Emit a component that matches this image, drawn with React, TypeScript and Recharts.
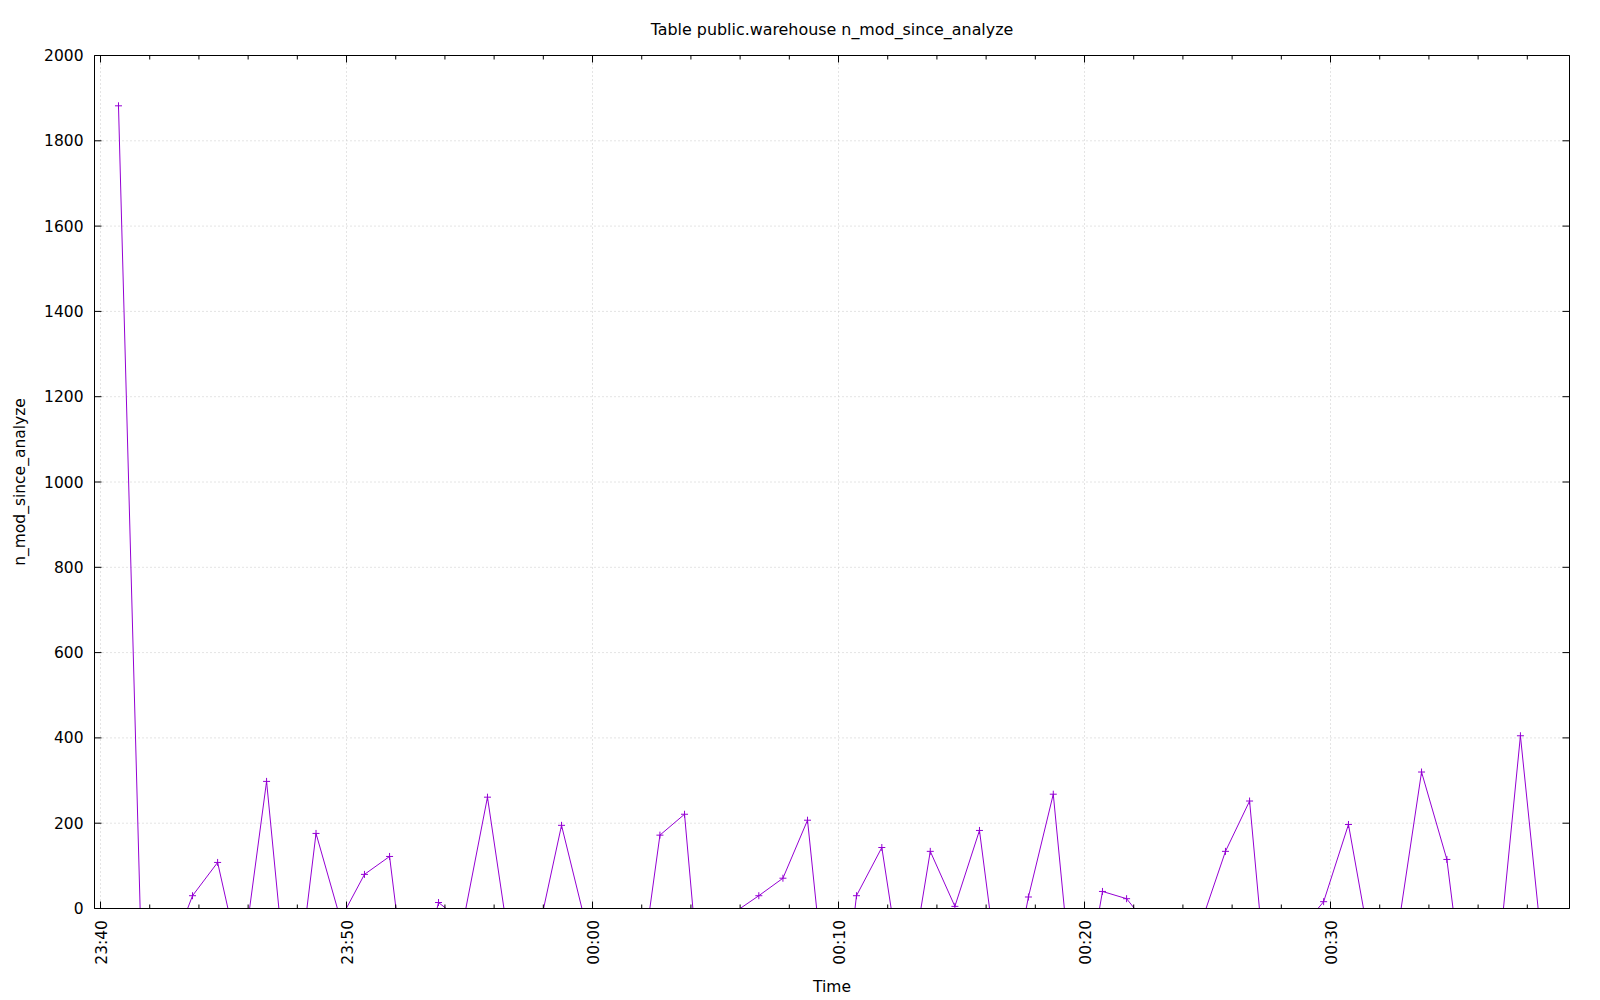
import React from 'react';
import { LineChart, Line, XAxis, YAxis, CartesianGrid, ReferenceLine } from 'recharts';

// time axis = minutes after 23:40; values of 0 are where the trace hits the floor of the plot
const times = [
  0.73, 1.61, 3.54, 3.74, 4.76, 5.18, 6.06, 6.75, 7.25, 8.39, 8.76, 9.63, 9.99, 10.73, 11.75, 12.01,
  13.68, 13.74, 14.05, 14.85, 15.73, 16.4, 18.01, 18.74, 19.57, 22.33, 22.74, 23.74, 24.08, 26.0, 26.76,
  27.74, 28.74, 29.11, 30.67, 30.73, 31.76, 32.14, 33.35, 33.73, 34.73, 35.73, 36.14, 37.63, 37.72,
  38.73, 39.18, 40.61, 40.73, 41.71, 42.03, 44.94, 45.73, 46.71, 47.11, 49.49, 49.72, 50.73, 51.34,
  52.87, 53.7, 54.73, 54.98, 57.03, 57.72, 58.44,
];
const values = [
  1882, 0, 0, 30, 108, 0, 0, 298, 0, 0, 176, 0, 0, 80, 122, 0,
  0, 14, 0, 0, 261, 0, 0, 195, 0, 0, 172, 221, 0, 0, 30,
  71, 207, 0, 0, 30, 143, 0, 0, 134, 5, 183, 0, 0, 27,
  268, 0, 0, 40, 23, 0, 0, 134, 252, 0, 0, 16, 197, 0,
  0, 320, 115, 0, 0, 405, 0,
];

const xTicks = [0, 2, 4, 6, 8, 10, 12, 14, 16, 18, 20, 22, 24, 26, 28, 30, 32, 34, 36, 38, 40, 42, 44, 46, 48, 50, 52, 54, 56, 58];
const xMajor = [0, 10, 20, 30, 40, 50];
const yTicks = [0, 200, 400, 600, 800, 1000, 1200, 1400, 1600, 1800, 2000];
const startMinute = 23 * 60 + 40;

const title = 'Table public.warehouse n_mod_since_analyze';
const xTitle = 'Time';
const yTitle = 'n_mod_since_analyze';

const PURPLE = '#9400d3';
const FONT = '"DejaVu Sans", sans-serif';
const FS = 15.5;

const fmtTime = (m: number) => {
  const total = (startMinute + Math.round(m)) % 1440;
  const h = Math.floor(total / 60);
  const mm = total % 60;
  return `${String(h).padStart(2, '0')}:${String(mm).padStart(2, '0')}`;
};

// split wherever two floor points follow each other, so nothing runs along the bottom border
type Pt = { t: number; v: number };
const segments: Pt[][] = [];
let cur: Pt[] = [];
times.forEach((t, i) => {
  const p = { t, v: values[i] };
  if (p.v === 0 && cur.length && cur[cur.length - 1].v === 0) {
    segments.push(cur);
    cur = [p];
  } else {
    cur.push(p);
  }
});
if (cur.length) segments.push(cur);

const PlusDot = (props: any) => {
  const { cx, cy, value, index } = props;
  if (!value || cx == null || cy == null) return <g key={index} />;
  return (
    <path
      key={index}
      d={`M${cx - 3.5},${cy}h7M${cx},${cy - 3.5}v7`}
      stroke={PURPLE}
      strokeWidth={1}
      fill="none"
    />
  );
};

const BottomTick = ({ x, y, payload }: any) => {
  const major = payload.value % 10 === 0;
  const ty = y + 11.5;
  return (
    <g>
      <line x1={x} x2={x} y1={y} y2={y - (major ? 7 : 4)} stroke="#000" />
      {major && (
        <text
          x={x}
          y={ty}
          dy={6.5}
          transform={`rotate(-90 ${x} ${ty})`}
          textAnchor="end"
          fontFamily={FONT}
          fontSize={FS}
          fill="#000"
        >
          {fmtTime(payload.value)}
        </text>
      )}
    </g>
  );
};

const TopTick = ({ x, y, payload }: any) => {
  const major = payload.value % 10 === 0;
  return <line x1={x} x2={x} y1={y} y2={y + (major ? 7 : 4)} stroke="#000" />;
};

const LeftTick = ({ x, y, payload }: any) => (
  <g>
    <line x1={x} x2={x + 7} y1={y} y2={y} stroke="#000" />
    <text x={x - 11} y={y} dy={5.5} textAnchor="end" fontFamily={FONT} fontSize={FS} fill="#000">
      {payload.value}
    </text>
  </g>
);

const RightTick = ({ x, y }: any) => <line x1={x} x2={x - 7} y1={y} y2={y} stroke="#000" />;

const X_DOMAIN: [number, number] = [-0.245, 59.715];
const Y_DOMAIN: [number, number] = [0, 2000];

export default function App() {
  return (
    <div style={{ position: 'absolute', left: 0, top: 0, width: 1600, height: 1000, background: '#fff' }}>
      <LineChart width={1600} height={1000} margin={{ top: 54.5, right: 29.5, bottom: 90.5, left: 93.5 }}>
        <CartesianGrid vertical={false} stroke="#c8c8c8" strokeDasharray="1 3" />
        {xMajor.map((m) => (
          <ReferenceLine key={m} x={m} stroke="#c8c8c8" strokeDasharray="1 3" />
        ))}
        <XAxis
          dataKey="t"
          type="number"
          domain={X_DOMAIN}
          allowDataOverflow
          ticks={xTicks}
          interval={0}
          height={1}
          tickSize={0}
          tickMargin={0}
          tickLine={false}
          axisLine={{ stroke: '#000', strokeWidth: 1 }}
          tick={<BottomTick />}
        />
        <XAxis
          xAxisId="top"
          orientation="top"
          dataKey="t"
          type="number"
          domain={X_DOMAIN}
          allowDataOverflow
          ticks={xTicks}
          interval={0}
          height={1}
          tickSize={0}
          tickMargin={0}
          tickLine={false}
          axisLine={{ stroke: '#000', strokeWidth: 1 }}
          tick={<TopTick />}
        />
        <YAxis
          type="number"
          domain={Y_DOMAIN}
          allowDataOverflow
          ticks={yTicks}
          interval={0}
          width={1}
          tickSize={0}
          tickMargin={0}
          tickLine={false}
          axisLine={{ stroke: '#000', strokeWidth: 1 }}
          tick={<LeftTick />}
        />
        <YAxis
          yAxisId="right"
          orientation="right"
          type="number"
          domain={Y_DOMAIN}
          allowDataOverflow
          ticks={yTicks}
          interval={0}
          width={1}
          tickSize={0}
          tickMargin={0}
          tickLine={false}
          axisLine={{ stroke: '#000', strokeWidth: 1 }}
          tick={<RightTick />}
        />
        {segments.map((seg, i) => (
          <Line
            key={i}
            data={seg}
            dataKey="v"
            type="linear"
            stroke={PURPLE}
            strokeWidth={1}
            dot={PlusDot}
            activeDot={false}
            isAnimationActive={false}
          />
        ))}
      </LineChart>
      <svg
        width={1600}
        height={1000}
        style={{ position: 'absolute', left: 0, top: 0, pointerEvents: 'none' }}
      >
        <text x={832} y={34.5} textAnchor="middle" fontFamily={FONT} fontSize={15.9} fill="#000">
          {title}
        </text>
        <text x={832} y={991.5} textAnchor="middle" fontFamily={FONT} fontSize={FS} fill="#000">
          {xTitle}
        </text>
        <text
          x={25}
          y={482}
          transform="rotate(-90 25 482)"
          textAnchor="middle"
          fontFamily={FONT}
          fontSize={FS}
          fill="#000"
        >
          {yTitle}
        </text>
      </svg>
    </div>
  );
}
